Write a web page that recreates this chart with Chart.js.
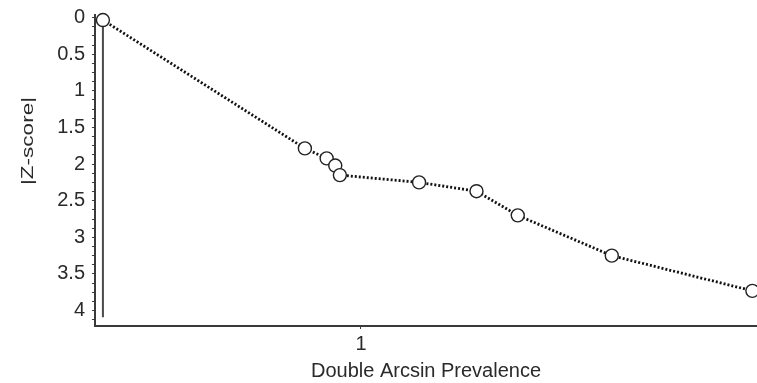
<!DOCTYPE html>
<html>
<head>
<meta charset="utf-8">
<script src="https://cdn.jsdelivr.net/npm/chart.js@4/dist/chart.umd.min.js"></script>
<style>
  html, body { margin: 0; padding: 0; background: #fff; }
  #wrap { width: 757px; height: 383px; position: relative; }
</style>
</head>
<body>
<div id="wrap"><canvas id="c" width="757" height="383"></canvas></div>
<script>
// ---- Data ----
const prevalence = [0.609, 0.915, 0.948, 0.961, 0.968, 1.088, 1.175, 1.2375, 1.380, 1.593];
const zScores    = [0.034, 1.786, 1.922, 2.02, 2.15, 2.25, 2.37, 2.70, 3.25, 3.73];
const refLineX   = [0.609, 0.609];
const refLineZ   = [0.034, 4.09];
const xTickValues = [1];
const yTickLabels = ['0', '0.5', '1', '1.5', '2', '2.5', '3', '3.5', '4'];
const xTitle = 'Double Arcsin Prevalence';
const yTitle = '|Z-score|';

const FONT = "'Liberation Sans', Arial, sans-serif";
const AXIS_COLOR = '#3a3a3a';
const TEXT_COLOR = '#2a2a2a';

const points = prevalence.map((x, i) => ({ x: x, y: zScores[i] }));
const refLine = refLineX.map((x, i) => ({ x: x, y: refLineZ[i] }));

const yTitlePlugin = {
  id: 'yTitle',
  afterDraw(chart) {
    const ctx = chart.ctx;
    ctx.save();
    ctx.font = '17px ' + FONT;
    const w = ctx.measureText(yTitle).width;
    ctx.translate(33, 141);
    ctx.rotate(-Math.PI / 2);
    ctx.scale(88 / w, 1);
    ctx.fillStyle = TEXT_COLOR;
    ctx.textAlign = 'center';
    ctx.textBaseline = 'alphabetic';
    ctx.fillText(yTitle, 0, 0);
    ctx.restore();
  }
};

new Chart(document.getElementById('c'), {
  type: 'scatter',
  data: {
    datasets: [
      {
        data: points,
        showLine: true,
        borderColor: '#111',
        borderWidth: 2.8,
        borderDash: [2, 2],
        pointRadius: 6.5,
        pointHoverRadius: 6.5,
        pointBackgroundColor: '#fff',
        pointBorderColor: '#222',
        pointBorderWidth: 1.4,
        clip: false
      },
      {
        data: refLine,
        showLine: true,
        borderColor: '#4a4a4a',
        borderWidth: 2,
        pointRadius: 0
      }
    ]
  },
  options: {
    responsive: false,
    animation: false,
    events: [],
    layout: { autoPadding: false, padding: { top: 15, right: 0, bottom: 0, left: 0 } },
    plugins: { legend: { display: false }, tooltip: { enabled: false } },
    scales: {
      x: {
        type: 'linear',
        min: 0.597,
        max: 1.6,
        afterFit(scale) { scale.height = 57; scale.paddingLeft = 0; scale.paddingRight = 0; },
        afterBuildTicks(scale) { scale.ticks = xTickValues.map(v => ({ value: v })); },
        grid: { display: true, drawOnChartArea: false, drawTicks: true, tickLength: 3, color: AXIS_COLOR, lineWidth: 1 },
        border: { display: true, color: AXIS_COLOR, width: 2 },
        ticks: {
          autoSkip: false,
          maxRotation: 0,
          padding: 3,
          color: TEXT_COLOR,
          font: { family: FONT, size: 20 },
          callback: (v) => String(v)
        },
        title: {
          display: true,
          text: xTitle,
          color: TEXT_COLOR,
          font: { family: FONT, size: 20 },
          padding: { top: 0, bottom: 0 }
        }
      },
      y: {
        type: 'linear',
        reverse: true,
        min: -0.035,
        max: 4.21,
        afterFit(scale) { scale.width = 95; scale.paddingTop = 0; scale.paddingBottom = 0; },
        afterBuildTicks(scale) {
          const t = [];
          for (let k = 0; k <= 33; k++) t.push({ value: k * 0.125 });
          scale.ticks = t;
        },
        grid: { display: true, drawOnChartArea: false, drawTicks: true, tickLength: 3, color: AXIS_COLOR, lineWidth: 1 },
        border: { display: true, color: AXIS_COLOR, width: 2 },
        ticks: {
          autoSkip: false,
          padding: 7,
          color: TEXT_COLOR,
          font: { family: FONT, size: 20 },
          callback: function (v) {
            const k = Math.round(v / 0.5);
            if (Math.abs(v - k * 0.5) < 1e-6 && k >= 0 && k < yTickLabels.length) return yTickLabels[k];
            return '';
          }
        },
        title: { display: false }
      }
    }
  },
  plugins: [yTitlePlugin]
});
</script>
</body>
</html>
